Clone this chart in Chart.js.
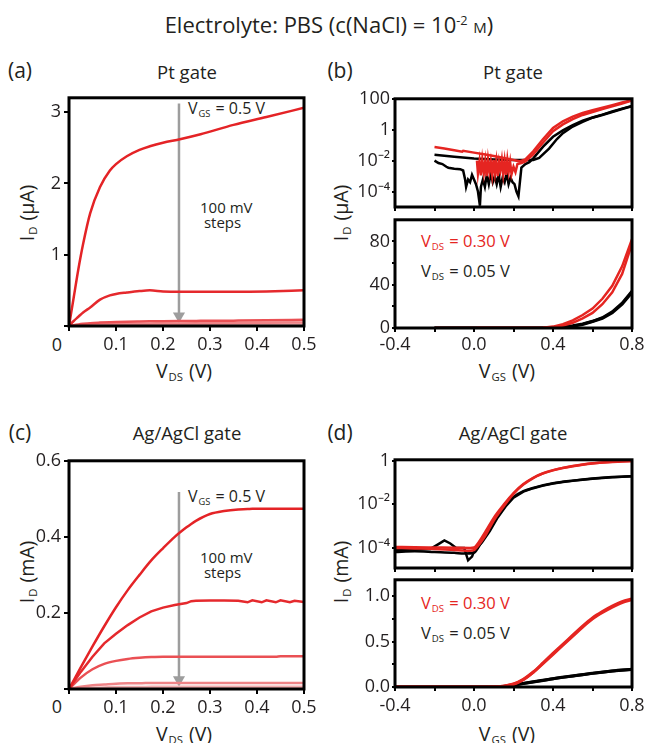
<!DOCTYPE html>
<html>
<head>
<meta charset="utf-8">
<script src="https://cdn.jsdelivr.net/npm/chart.js@4.4.1/dist/chart.umd.min.js"></script>
<style>
body { margin: 0; background: #fff; }
#fig { position: relative; width: 646px; height: 743px; overflow: hidden; font-family: 'Open Sans', sans-serif; color: #231f20; }
#fig canvas { position: absolute; }
.t { position: absolute; white-space: nowrap; line-height: 1; }
.c { transform: translate(-50%, -50%); }
.l { transform: translate(0, -50%); }
.r { transform: translate(-50%, -50%) rotate(-90deg); }
.t sub { font-size: 58%; position: relative; top: 0.3em; vertical-align: baseline; margin: 0 1px; }
.t sup { font-size: 58%; position: relative; top: -0.6em; vertical-align: baseline; }
.red { color: #e52521; }
</style>
</head>
<body>
<div id="fig">
  <div class="t c" style="left:329px;top:24px;font-size:22px">Electrolyte: PBS (c(NaCl) = 10<sup>-2</sup> <span style="font-variant:small-caps">m</span>)</div>

  <div class="t c" style="left:20px;top:70px;font-size:21px">(a)</div>
  <div class="t c" style="left:187px;top:72px;font-size:18.5px">Pt gate</div>
  <div class="t c" style="left:340px;top:70px;font-size:21px">(b)</div>
  <div class="t c" style="left:513px;top:72px;font-size:18.5px">Pt gate</div>
  <div class="t c" style="left:20px;top:432px;font-size:21px">(c)</div>
  <div class="t c" style="left:187px;top:433px;font-size:18.5px">Ag/AgCl gate</div>
  <div class="t c" style="left:340px;top:432px;font-size:21px">(d)</div>
  <div class="t c" style="left:513px;top:433px;font-size:18.5px">Ag/AgCl gate</div>

  <div class="t r" style="left:27px;top:213px;font-size:19.5px">I<sub>D</sub> (µA)</div>
  <div class="t r" style="left:341px;top:213px;font-size:19.5px">I<sub>D</sub> (µA)</div>
  <div class="t r" style="left:27px;top:572px;font-size:19.5px">I<sub>D</sub> (mA)</div>
  <div class="t r" style="left:341px;top:572px;font-size:19.5px">I<sub>D</sub> (mA)</div>

  <div class="t c" style="left:184px;top:371px;font-size:19.5px">V<sub>DS</sub> (V)</div>
  <div class="t c" style="left:507px;top:371px;font-size:19.5px">V<sub>GS</sub> (V)</div>
  <div class="t c" style="left:184px;top:734px;font-size:19.5px">V<sub>DS</sub> (V)</div>
  <div class="t c" style="left:507px;top:734px;font-size:19.5px">V<sub>GS</sub> (V)</div>

  <div class="t c" style="left:57px;top:344px;font-size:18px">0</div>
  <div class="t c" style="left:57px;top:706px;font-size:18px">0</div>

  <div class="t l" style="left:188px;top:108px;font-size:16px">V<sub>GS</sub> = 0.5 V</div>
  <div class="t" style="left:200px;top:200px;font-size:15px;line-height:15px">100 mV<br>&nbsp;steps</div>
  <div class="t l" style="left:188px;top:496px;font-size:16px">V<sub>GS</sub> = 0.5 V</div>
  <div class="t" style="left:200px;top:550px;font-size:15px;line-height:15px">100 mV<br>&nbsp;steps</div>

  <div class="t l red" style="left:421px;top:241px;font-size:16.5px">V<sub>DS</sub> = 0.30 V</div>
  <div class="t l" style="left:421px;top:271px;font-size:16.5px">V<sub>DS</sub> = 0.05 V</div>
  <div class="t l red" style="left:421px;top:603px;font-size:16.5px">V<sub>DS</sub> = 0.30 V</div>
  <div class="t l" style="left:421px;top:633px;font-size:16.5px">V<sub>DS</sub> = 0.05 V</div>
</div>

<script>
// ---- (a) Pt gate, output curves: VDS (V) vs ID (µA), one array per VGS
var aVds  = [0, 0.01, 0.02, 0.03, 0.045, 0.066, 0.087, 0.1, 0.123, 0.15, 0.172, 0.2, 0.236, 0.28, 0.35, 0.42, 0.5];
var aId05 = [0, 0.4, 0.8, 1.15, 1.58, 1.95, 2.18, 2.27, 2.38, 2.47, 2.52, 2.57, 2.62, 2.69, 2.82, 2.93, 3.06];
var aId04 = [0, 0.07, 0.13, 0.19, 0.26, 0.37, 0.43, 0.45, 0.47, 0.49, 0.5, 0.485, 0.48, 0.48, 0.48, 0.485, 0.5];
var aId03 = [0, 0.012, 0.022, 0.03, 0.04, 0.048, 0.054, 0.057, 0.061, 0.064, 0.066, 0.068, 0.07, 0.072, 0.075, 0.079, 0.087];
var aId02 = [0, 0.006, 0.011, 0.015, 0.019, 0.023, 0.026, 0.028, 0.03, 0.032, 0.033, 0.034, 0.036, 0.038, 0.041, 0.045, 0.05];
var aId01 = [0, 0.003, 0.005, 0.007, 0.009, 0.011, 0.012, 0.013, 0.014, 0.015, 0.015, 0.016, 0.017, 0.018, 0.019, 0.02, 0.022];
var aArrowX = [0.234, 0.234];
var aArrowY = [3.12, 0.14];

// ---- (c) Ag/AgCl gate, output curves: VDS (V) vs ID (mA)
var cVds  = [0, 0.025, 0.05, 0.075, 0.1, 0.125, 0.15, 0.175, 0.2, 0.225, 0.25, 0.26, 0.27, 0.3, 0.33, 0.36, 0.38, 0.39, 0.41, 0.42, 0.44, 0.45, 0.47, 0.48, 0.5];
var cId05 = [0, 0.057, 0.112, 0.165, 0.215, 0.26, 0.3, 0.338, 0.37, 0.4, 0.425, 0.434, 0.442, 0.46, 0.468, 0.472, 0.473, 0.474, 0.474, 0.474, 0.474, 0.474, 0.474, 0.474, 0.474];
var cId04 = [0, 0.045, 0.085, 0.12, 0.145, 0.168, 0.188, 0.204, 0.214, 0.221, 0.226, 0.231, 0.232, 0.233, 0.233, 0.232, 0.228, 0.233, 0.228, 0.233, 0.228, 0.233, 0.228, 0.232, 0.229];
var cId03 = [0, 0.03, 0.052, 0.066, 0.074, 0.079, 0.082, 0.084, 0.085, 0.085, 0.085, 0.085, 0.085, 0.085, 0.085, 0.085, 0.085, 0.085, 0.085, 0.085, 0.085, 0.086, 0.086, 0.086, 0.086];
var cId02 = [0, 0.006, 0.01, 0.012, 0.014, 0.015, 0.015, 0.016, 0.016, 0.016, 0.016, 0.016, 0.016, 0.016, 0.016, 0.016, 0.016, 0.016, 0.016, 0.016, 0.016, 0.016, 0.016, 0.016, 0.016];
var cId01 = [0, 0.002, 0.003, 0.004, 0.005, 0.005, 0.005, 0.006, 0.006, 0.006, 0.006, 0.006, 0.006, 0.006, 0.006, 0.006, 0.006, 0.006, 0.006, 0.006, 0.006, 0.006, 0.006, 0.006, 0.006];
var cArrowX = [0.234, 0.234];
var cArrowY = [0.518, 0.024];

// ---- (b) Pt gate, transfer curves: VGS (V) vs ID (µA)
var bRedUpV  = [-0.2, -0.15, -0.1, -0.06, -0.055, 0.0, 0.05, 0.1, 0.15, 0.2, 0.23, 0.26, 0.3, 0.35, 0.4, 0.45, 0.5, 0.55, 0.6, 0.65, 0.7, 0.75, 0.8];
var bRedUpI  = [0.075, 0.06, 0.047, 0.038, 0.043, 0.033, 0.026, 0.02, 0.015, 0.011, 0.009, 0.012, 0.04, 0.25, 1.3, 3.5, 7, 12, 18, 27, 39, 57, 82];
var bRedLowV = [0.015, 0.02, 0.028, 0.035, 0.042, 0.05, 0.057, 0.064, 0.071, 0.078, 0.085, 0.092, 0.099, 0.106, 0.113, 0.12, 0.127, 0.134, 0.141, 0.148, 0.155, 0.162, 0.169, 0.176, 0.183, 0.19, 0.2, 0.21, 0.22, 0.24, 0.26, 0.3, 0.35, 0.4, 0.45, 0.5, 0.55, 0.6, 0.65, 0.7, 0.75, 0.8];
var bRedLowI = [0.01, 0.0015, 0.009, 0.0011, 0.011, 0.0016, 0.009, 0.001, 0.011, 0.002, 0.008, 0.0012, 0.011, 0.0016, 0.009, 0.001, 0.008, 0.0025, 0.011, 0.0014, 0.009, 0.0012, 0.011, 0.002, 0.008, 0.0013, 0.004, 0.0018, 0.006, 0.007, 0.009, 0.025, 0.15, 0.8, 2.2, 4.8, 9, 14, 22, 33, 50, 78];
var bBlkUpV  = [-0.2, -0.1, 0.0, 0.1, 0.2, 0.3, 0.33, 0.38, 0.42, 0.45, 0.5, 0.55, 0.6, 0.65, 0.7, 0.75, 0.8];
var bBlkUpI  = [0.024, 0.018, 0.0135, 0.012, 0.011, 0.011, 0.015, 0.06, 0.25, 0.6, 1.6, 3.2, 6, 9, 14, 22, 33];
var bBlkLowV = [-0.2, -0.18, -0.16, -0.14, -0.13, -0.1, -0.07, -0.055, -0.045, -0.04, -0.03, -0.02, -0.01, 0.0, 0.01, 0.02, 0.03, 0.035, 0.045, 0.055, 0.065, 0.075, 0.085, 0.095, 0.105, 0.115, 0.125, 0.135, 0.145, 0.155, 0.165, 0.175, 0.185, 0.195, 0.205, 0.215, 0.225, 0.24, 0.26, 0.28, 0.3, 0.35, 0.4, 0.45, 0.5, 0.55, 0.6, 0.65, 0.7, 0.75, 0.8];
var bBlkLowI = [0.01, 0.007, 0.006, 0.004, 0.0035, 0.003, 0.0028, 0.0023, 0.0006, 0.0002, 0.0006, 0.0004, 0.0012, 0.0006, 0.0003, 0.0001, 0.000012, 0.0002, 0.0006, 0.0002, 0.0012, 0.0003, 0.0015, 0.0004, 0.001, 0.0003, 0.0012, 0.0002, 0.0008, 0.0004, 0.0015, 0.0003, 0.0008, 0.0004, 0.0003, 0.0001, 0.00005, 0.0035, 0.006, 0.008, 0.014, 0.08, 0.35, 0.9, 2, 3.8, 6.2, 9.5, 15, 23, 34];

// ---- (d) Ag/AgCl gate, transfer curves: VGS (V) vs ID (mA)
var dRedV  = [-0.4, -0.3, -0.2, -0.1, -0.02, 0.0, 0.03, 0.06, 0.1, 0.15, 0.2, 0.25, 0.3, 0.35, 0.4, 0.45, 0.5, 0.55, 0.6, 0.65, 0.7, 0.75, 0.8];
var dRed1I = [1.0e-4, 9.5e-5, 9e-5, 8e-5, 7.5e-5, 8e-5, 1.6e-4, 4e-4, 1.8e-3, 8e-3, 0.03, 0.08, 0.16, 0.26, 0.36, 0.46, 0.56, 0.66, 0.75, 0.82, 0.88, 0.93, 0.96];
var dRed2I = [1.1e-4, 1.08e-4, 1.05e-4, 1.02e-4, 1.0e-4, 1.05e-4, 2.2e-4, 6e-4, 2.4e-3, 9.5e-3, 0.033, 0.085, 0.165, 0.265, 0.37, 0.47, 0.57, 0.67, 0.76, 0.83, 0.89, 0.94, 0.97];
var dBlk1V = [-0.4, -0.3, -0.22, -0.18, -0.15, -0.12, -0.09, -0.05, -0.03, -0.01, 0.0, 0.04, 0.08, 0.12, 0.16, 0.2, 0.25, 0.3, 0.35, 0.4, 0.45, 0.5, 0.55, 0.6, 0.65, 0.7, 0.75, 0.8];
var dBlk1I = [8e-5, 8.5e-5, 9e-5, 1.5e-4, 2.2e-4, 1.6e-4, 1.0e-4, 1.0e-4, 2.7e-5, 4e-5, 7e-5, 1.8e-4, 6e-4, 2.5e-3, 8e-3, 0.02, 0.038, 0.055, 0.072, 0.09, 0.106, 0.12, 0.135, 0.15, 0.163, 0.175, 0.185, 0.193];
var dBlk2V = [-0.4, -0.3, -0.2, -0.1, -0.05, 0.0, 0.04, 0.08, 0.12, 0.16, 0.2, 0.25, 0.3, 0.4, 0.5, 0.6, 0.7, 0.8];
var dBlk2I = [6.5e-5, 7e-5, 6.5e-5, 6e-5, 5.5e-5, 6e-5, 2e-4, 7e-4, 2.8e-3, 9e-3, 0.022, 0.04, 0.057, 0.092, 0.122, 0.152, 0.177, 0.195];

// ---- ticks
var outXTicks = [0, 0.1, 0.2, 0.3, 0.4, 0.5];
var outXLabels = ['', '0.1', '0.2', '0.3', '0.4', '0.5'];
var aYTicks = [0, 1, 2, 3];
var aYLabels = ['', '1', '2', '3'];
var cYTicks = [0, 0.2, 0.4, 0.6];
var cYLabels = ['', '0.2', '0.4', '0.6'];
var trXTicks = [-0.4, -0.2, 0, 0.2, 0.4, 0.6, 0.8];
var trXLabels = ['-0.4', '', '0.0', '', '0.4', '', '0.8'];
var bLogTicks = [1e-4, 1e-2, 1, 100];
var bLogLabels = ['10\u207B\u2074', '10\u207B\u00B2', '1', '100'];
var bLinTicks = [0, 20, 40, 60, 80];
var bLinLabels = ['0', '', '40', '', '80'];
var dLogTicks = [1e-4, 1e-2, 1];
var dLogLabels = ['10\u207B\u2074', '10\u207B\u00B2', '1'];
var dLinTicks = [0, 0.25, 0.5, 0.75, 1.0];
var dLinLabels = ['0.0', '', '0.5', '', '1.0'];

var RED = '#e52521';
var BLK = '#000000';
var GRAY = '#9d9d9d';
var vgsColors = ['#e42326', '#e5292d', '#ea5054', '#ef8487', '#f4aeb0'];

Chart.defaults.font.family = "'Open Sans', sans-serif";
Chart.defaults.font.size = 18;
Chart.defaults.color = '#231f20';

var frame = {
  id: 'frame',
  afterDatasetsDraw: function(chart) {
    var a = chart.chartArea, ctx = chart.ctx;
    ctx.save();
    ctx.lineWidth = 3;
    ctx.strokeStyle = '#000';
    ctx.strokeRect(a.left, a.top, a.right - a.left, a.bottom - a.top);
    ctx.restore();
  }
};

function pts(xs, ys) {
  return xs.map(function(x, i) { return {x: x, y: ys[i]}; });
}

function line(xs, ys, color, width, smooth) {
  return {
    data: pts(xs, ys),
    showLine: true,
    borderColor: color,
    borderWidth: width,
    pointRadius: 0,
    tension: 0,
    cubicInterpolationMode: smooth ? 'monotone' : 'default'
  };
}

function arrow(xs, ys) {
  return {
    data: pts(xs, ys),
    showLine: true,
    borderColor: GRAY,
    borderWidth: 2.5,
    pointRadius: [0, 7],
    pointStyle: 'triangle',
    rotation: 180,
    pointBackgroundColor: GRAY,
    pointBorderColor: GRAY,
    pointBorderWidth: 0
  };
}

function axis(type, min, max, ticks, labels, pad, tickLen) {
  return {
    type: type,
    min: min,
    max: max,
    afterBuildTicks: function(s) { s.ticks = ticks.map(function(v) { return {value: v}; }); },
    ticks: {
      autoSkip: false,
      maxRotation: 0,
      minRotation: 0,
      padding: pad,
      callback: function(v, i) { return labels[i]; }
    },
    grid: { drawOnChartArea: false, drawTicks: true, tickLength: tickLen, color: '#000', lineWidth: 2 },
    border: { display: false }
  };
}

function panel(box, x, y, datasets) {
  var padL = 66, padR = 20, padT = 8, padB = 34;
  var cv = document.createElement('canvas');
  cv.width = box.r - box.l + padL + padR;
  cv.height = box.b - box.t + padT + padB;
  cv.style.left = (box.l - padL) + 'px';
  cv.style.top = (box.t - padT) + 'px';
  document.getElementById('fig').appendChild(cv);
  x.position = 'bottom';
  y.position = 'left';
  x.afterFit = function(s) { s.height = padB; };
  y.afterFit = function(s) { s.width = padL; };
  return new Chart(cv, {
    type: 'scatter',
    data: { datasets: datasets },
    options: {
      responsive: false,
      animation: false,
      layout: { padding: { left: 0, right: padR, top: padT, bottom: 0 } },
      plugins: { legend: { display: false }, tooltip: { enabled: false } },
      scales: { x: x, y: y }
    },
    plugins: [frame]
  });
}

// (a)
panel({l: 69, r: 304, t: 92, b: 326},
  axis('linear', 0, 0.5, outXTicks, outXLabels, 3, 5),
  axis('linear', 0, 3.2, aYTicks, aYLabels, 3, 5),
  [
    line(aVds, aId05, vgsColors[0], 2.5, true),
    line(aVds, aId04, vgsColors[1], 2.5, true),
    line(aVds, aId03, vgsColors[2], 2.5, true),
    line(aVds, aId02, vgsColors[3], 2.5, true),
    line(aVds, aId01, vgsColors[4], 2.5, true),
    arrow(aArrowX, aArrowY)
  ]);

// (c)
panel({l: 69, r: 304, t: 455, b: 689},
  axis('linear', 0, 0.5, outXTicks, outXLabels, 3, 5),
  axis('linear', 0, 0.6, cYTicks, cYLabels, 3, 5),
  [
    line(cVds, cId05, vgsColors[0], 2.5, true),
    line(cVds, cId04, vgsColors[1], 2.5, false),
    line(cVds, cId03, vgsColors[2], 2.5, true),
    line(cVds, cId02, vgsColors[3], 2.5, true),
    line(cVds, cId01, vgsColors[4], 2.5, true),
    arrow(cArrowX, cArrowY)
  ]);

// (b) log
panel({l: 395, r: 632, t: 94, b: 207},
  axis('linear', -0.4, 0.8, trXTicks, trXLabels.map(function() { return ''; }), 0, 4),
  axis('logarithmic', 1e-5, 100, bLogTicks, bLogLabels, 2, 3),
  [
    line(bRedUpV, bRedUpI, RED, 2.5, false),
    line(bRedLowV, bRedLowI, RED, 2.5, false),
    line(bBlkUpV, bBlkUpI, BLK, 2.5, false),
    line(bBlkLowV, bBlkLowI, BLK, 2.5, false)
  ]);

// (b) linear
panel({l: 395, r: 632, t: 215, b: 328},
  axis('linear', -0.4, 0.8, trXTicks, trXLabels, 2, 4),
  axis('linear', 0, 100, bLinTicks, bLinLabels, 2, 3),
  [
    line(bRedUpV, bRedUpI, RED, 2.5, false),
    line(bRedLowV, bRedLowI, RED, 2.5, false),
    line(bBlkUpV, bBlkUpI, BLK, 3, false),
    line(bBlkLowV, bBlkLowI, BLK, 3, false)
  ]);

// (d) log
panel({l: 395, r: 632, t: 455, b: 568},
  axis('linear', -0.4, 0.8, trXTicks, trXLabels.map(function() { return ''; }), 0, 4),
  axis('logarithmic', 1.2e-5, 1.1, dLogTicks, dLogLabels, 2, 3),
  [
    line(dRedV, dRed1I, RED, 2.5, true),
    line(dRedV, dRed2I, RED, 2.5, true),
    line(dBlk1V, dBlk1I, BLK, 2.5, false),
    line(dBlk2V, dBlk2I, BLK, 2.5, true)
  ]);

// (d) linear
panel({l: 395, r: 632, t: 575, b: 687},
  axis('linear', -0.4, 0.8, trXTicks, trXLabels, 4, 4),
  axis('linear', 0, 1.18, dLinTicks, dLinLabels, 2, 3),
  [
    line(dRedV, dRed1I, RED, 3, true),
    line(dRedV, dRed2I, RED, 3, true),
    line(dBlk1V, dBlk1I, BLK, 3, false),
    line(dBlk2V, dBlk2I, BLK, 3, true)
  ]);
</script>
</body>
</html>
